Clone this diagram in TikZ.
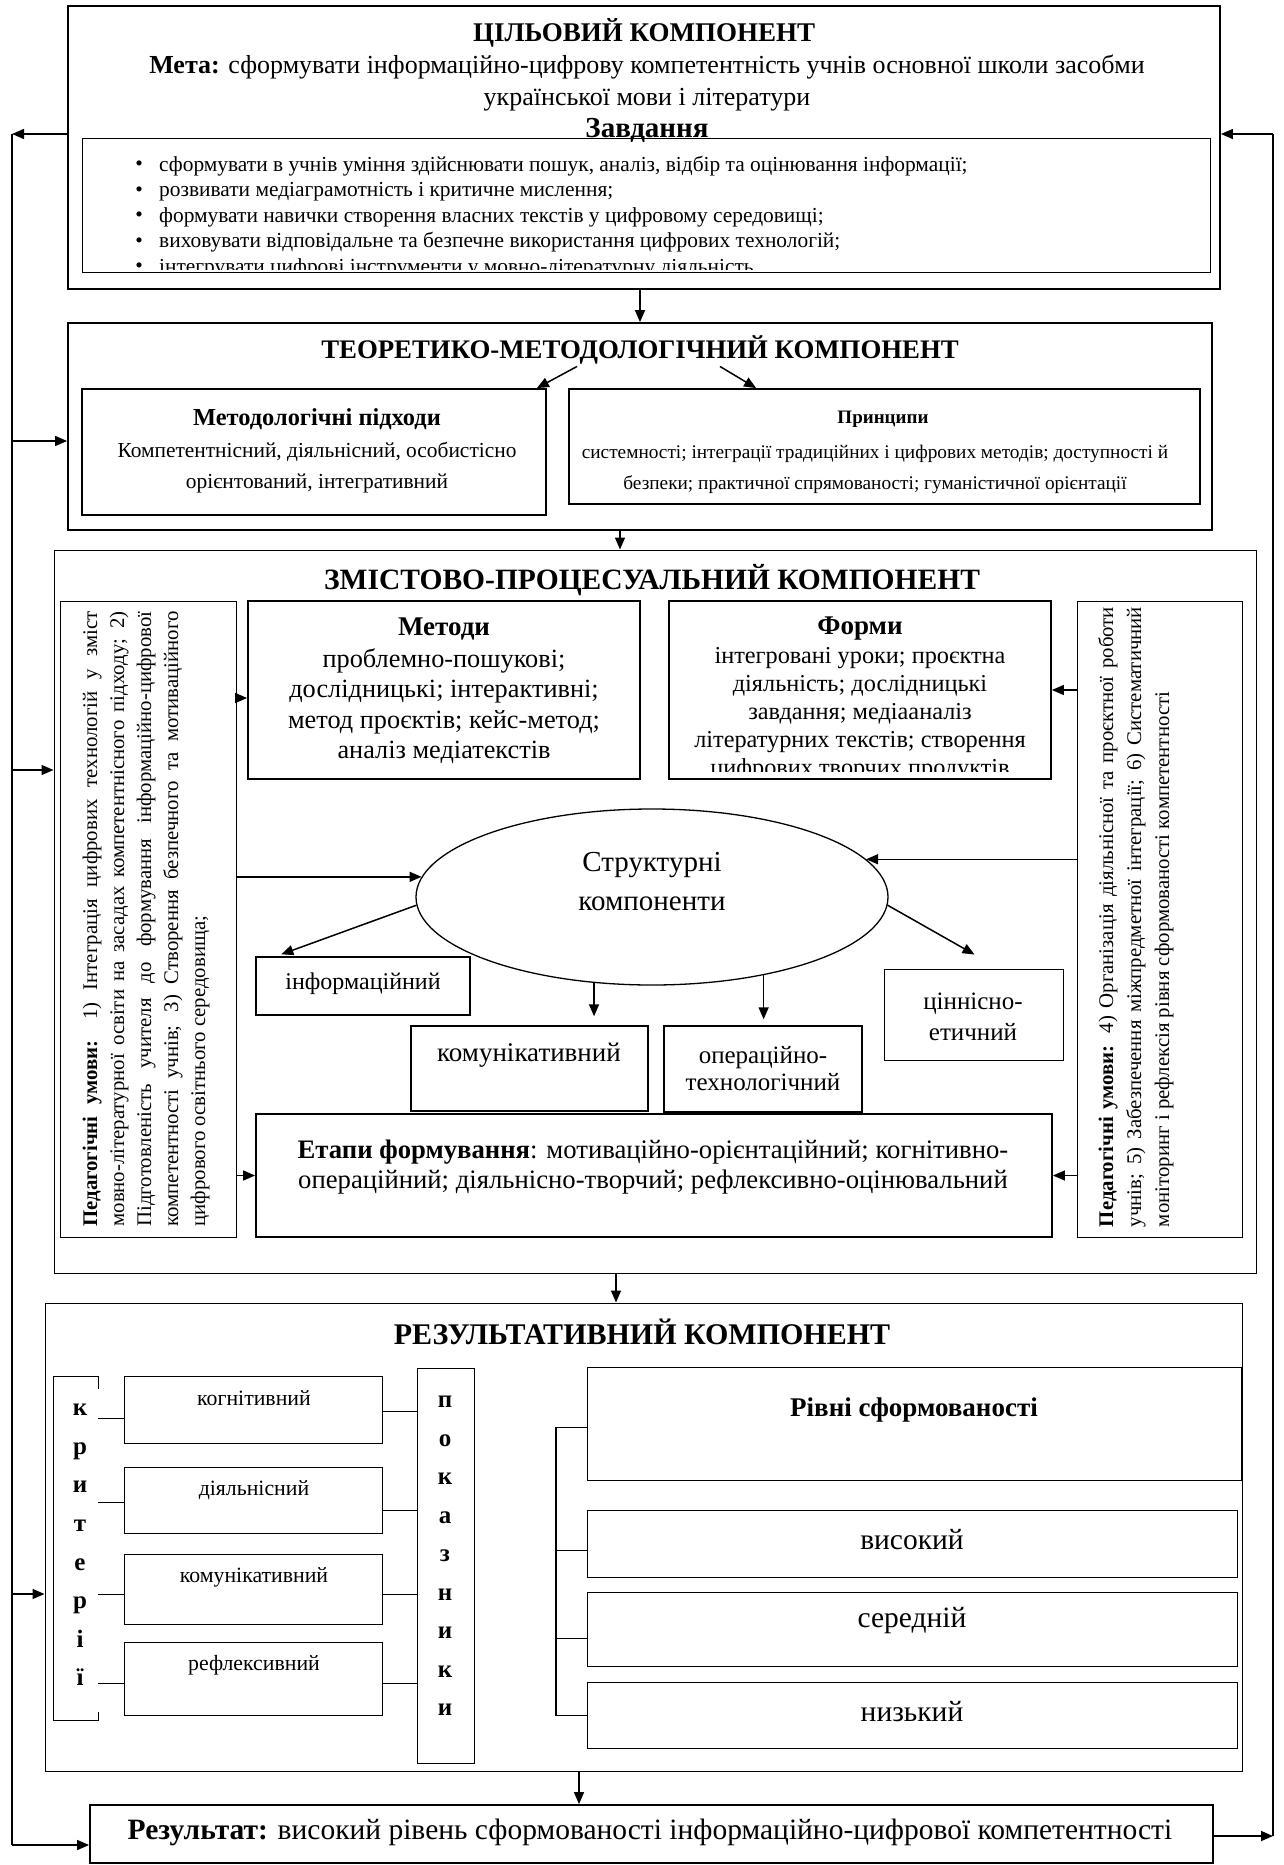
\documentclass[tikz,border=0pt]{standalone}
\usepackage{fontspec}
\setmainfont{Liberation Serif}
\usetikzlibrary{arrows.meta,shapes.geometric,fit,calc}
\newcommand{\fsz}[2]{\fontsize{#1}{#2}\selectfont}
\tikzset{
  bx/.style={draw, line width=1pt, inner sep=0pt},
  bxm/.style={draw, line width=1.4pt, inner sep=0pt},
  bxk/.style={draw, line width=1.8pt, inner sep=0pt},
  arr/.style={-{Triangle[length=12pt,width=10pt]}, line width=1.5pt},
  ln/.style={line width=1.5pt},
  lnt/.style={line width=1.2pt},
  txt/.style={inner sep=0pt},
}
\begin{document}
\begin{tikzpicture}[x=1pt,y=-1pt]
\useasboundingbox (0,0) rectangle (1283,1865);

% ---------------- goal component
\node[bxk, fit={(68,6) (1220,289)}] (goal) {};
\node[txt, font=\fsz{27}{32}\bfseries] (goalT) at (644,33) {ЦІЛЬОВИЙ КОМПОНЕНТ};
\node[txt, font=\fsz{26}{32}, align=center] (meta) at (647,83) {\textbf{Мета:} сформувати інформаційно-цифрову компетентність учнів основної школи засобми\\української мови і літератури};
\node[txt, font=\fsz{29}{32}\bfseries] (zavd) at (647,130) {Завдання};
\node[bx, fit={(82,139) (1210,272)}] (tasks) {};
\begin{scope}
\clip (82,139) rectangle (1210,269);
\node[txt, font=\fsz{21.4}{25}] (b1) at (139,166) {•};
\node[txt, font=\fsz{21.4}{25}] (b2) at (139,191.5) {•};
\node[txt, font=\fsz{21.4}{25}] (b3) at (139,217) {•};
\node[txt, font=\fsz{21.4}{25}] (b4) at (139,242.5) {•};
\node[txt, font=\fsz{21.4}{25}] (b5) at (139,268) {•};
\node[txt, anchor=west, font=\fsz{21.4}{25}] (t1) at (159,166) {сформувати в учнів уміння здійснювати пошук, аналіз, відбір та оцінювання інформації;};
\node[txt, anchor=west, font=\fsz{21.4}{25}] (t2) at (159,191.5) {розвивати медіаграмотність і критичне мислення;};
\node[txt, anchor=west, font=\fsz{21.4}{25}] (t3) at (159,217) {формувати навички створення власних текстів у цифровому середовищі;};
\node[txt, anchor=west, font=\fsz{21.4}{25}] (t4) at (159,242.5) {виховувати відповідальне та безпечне використання цифрових технологій;};
\node[txt, anchor=west, font=\fsz{21.4}{25}] (t5) at (159,268) {інтегрувати цифрові інструменти у мовно-літературну діяльність};
\end{scope}

% ---------------- theoretical component
\node[bxk, fit={(68,323) (1212,530)}] (theo) {};
\node[txt, font=\fsz{26.8}{30}\bfseries] (theoT) at (640,350) {ТЕОРЕТИКО-МЕТОДОЛОГІЧНИЙ КОМПОНЕНТ};
\node[bxk, fit={(82,389) (546,515)}] (appr) {};
\node[bxk, fit={(569,389) (1200,504)}] (princ) {};
\node[txt, font=\fsz{24.4}{28}\bfseries] (apprH) at (317,419) {Методологічні підходи};
\node[txt, font=\fsz{21.4}{31}, align=center] (apprT) at (317,468) {Компетентнісний, діяльнісний, особистісно\\орієнтований, інтегративний};
\node[txt, font=\fsz{19}{22}\bfseries] (princH) at (883,419) {Принципи};
\node[txt, font=\fsz{19.3}{31}, align=center] (princT) at (875,469) {системності; інтеграції традиційних і цифрових методів; доступності й\\безпеки; практичної спрямованості; гуманістичної орієнтації};
\draw[arr] ([xshift=-63pt,yshift=-2pt]theoT.south) -- ([xshift=-10pt]appr.north east);
\draw[arr] ([xshift=80pt,yshift=-2pt]theoT.south) -- ([xshift=188pt]princ.north west);

\draw[arr] (goal.south -| theo.north) -- (theo.north);

% ---------------- content-procedural component
\node[bx, fit={(54,550) (1256,1273)}] (zmist) {};
\draw[arr] ([xshift=-20pt]theo.south) -- ([xshift=-20pt]theo.south |- zmist.north);
\node[txt, font=\fsz{29.5}{32}\bfseries] (zmistT) at (652,580) {ЗМІСТОВО-ПРОЦЕСУАЛЬНИЙ КОМПОНЕНТ};

\node[bx, fit={(60,601) (236,1237)}] (lped) {};
\node[bx, fit={(1077,601) (1242,1237)}] (rped) {};
\node[txt, rotate=90, font=\fsz{20.8}{27}, align=left] (lpedT) at (146,919) {%
\makebox[615pt][s]{\textbf{Педагогічні умови:} 1) Інтеграція цифрових технологій у зміст}\\
\makebox[615pt][s]{мовно-літературної освіти на засадах компетентнісного підходу; 2)}\\
\makebox[615pt][s]{Підготовленість учителя до формування інформаційно-цифрової}\\
\makebox[615pt][s]{компетентності учнів; 3) Створення безпечного та мотиваційного}\\
\makebox[615pt][l]{цифрового освітнього середовища;}};
\node[txt, rotate=90, font=\fsz{20.8}{28}, align=left] (rpedT) at (1136,917) {%
\makebox[620pt][s]{\textbf{Педагогічні умови:} 4) Організація діяльнісної та проєктної роботи}\\
\makebox[620pt][s]{учнів; 5) Забезпечення міжпредметної інтеграції; 6) Систематичний}\\
\makebox[620pt][l]{моніторинг і рефлексія рівня сформованості компетентності}};

\node[bxk, fit={(248,601) (640,779)}] (meth) {};
\node[bxk, fit={(669,601) (1051,779)}] (form) {};
\node[txt, font=\fsz{27}{30}\bfseries] (methH) at (444,629) {Методи};
\node[txt, font=\fsz{26.3}{30.3}, align=center] (methT) at (444,706) {проблемно-пошукові;\\дослідницькі; інтерактивні;\\метод проєктів; кейс-метод;\\аналіз медіатекстів};
\node[txt, font=\fsz{27}{30}\bfseries] (formH) at (860,629) {Форми};
\begin{scope}
\clip (669,640) rectangle (1051,771);
\node[txt, font=\fsz{24.3}{27.8}, align=center] (formT) at (860,714) {інтегровані уроки; проєктна\\діяльність; дослідницькі\\завдання; медіааналіз\\літературних текстів; створення\\цифрових творчих продуктів};
\end{scope}

\node[draw, ellipse, line width=1.3pt, minimum width=472pt, minimum height=176pt, inner sep=0pt] (ell) at (652,897) {};
\node[txt, font=\fsz{29}{39}, align=center] (ellT) at (652,882) {Структурні\\компоненти};

\node[bxm, fit={(256,957) (470,1015)}] (info) {};
\node[bxm, fit={(411,1026) (648,1111)}] (komm) {};
\node[bxm, fit={(664,1026) (862,1112)}] (oper) {};
\node[bx, fit={(884,969) (1063,1060)}] (cin) {};
\node[bxk, fit={(256,1114) (1052,1237)}] (etap) {};
\node[txt, font=\fsz{24}{28}] (infoT) at (363,984) {інформаційний};
\node[txt, font=\fsz{27}{30}] (kommT) at (529,1055) {комунікативний};
\node[txt, font=\fsz{25}{27}, align=center] (operT) at (763,1069) {операційно-\\технологічний};
\node[txt, font=\fsz{25}{31}, align=center] (cinT) at (973,1017) {ціннісно-\\етичний};
\node[txt, font=\fsz{26.7}{30}, align=center] (etapT) at (653,1167) {\textbf{Етапи формування}: мотиваційно-орієнтаційний; когнітивно-\\операційний; діяльнісно-творчий; рефлексивно-оцінювальний};

\coordinate (mA) at ([yshift=-8pt]meth.west);
\draw[arr] (lped.east |- mA) -- (mA);
\draw[arr] (rped.west |- form.east) -- (form.east);
\draw[arr] (lped.east |- ell.175) -- (ell.175);
\draw[arr] (rped.west |- ell.10) -- (ell.10);
\draw[arr] (lped.east |- etap.west) -- (etap.west);
\draw[arr] (rped.west |- etap.east) -- (etap.east);
\draw[arr] (ell.182) -- ([xshift=26pt,yshift=2pt]info.north west);
\draw[arr, shorten >=9pt] (ell.236) -- (ell.236 |- komm.north);
\draw[arr, shorten >=6pt] (ell.325) -- (ell.325 |- oper.north);
\draw[arr] (ell.358) -- ([xshift=91pt,yshift=14pt]cin.north west);

% ---------------- result component
\node[bx, fit={(45,1303) (1242,1771)}] (res) {};
\draw[arr] ([xshift=-39pt]zmist.south) -- ([xshift=-39pt]zmist.south |- res.north);
\node[txt, font=\fsz{30}{32}\bfseries] (resT) at (642,1332) {РЕЗУЛЬТАТИВНИЙ КОМПОНЕНТ};

\node[inner sep=0pt, fit={(54,1377) (98,1720)}] (crit) {};
\draw[lnt] ([yshift=-12pt]crit.north east) -- (crit.north east) -- (crit.north west) -- (crit.south west) -- (crit.south east) -- ([yshift=8pt]crit.south east);
\node[txt, font=\fsz{25}{38.6}\bfseries, align=center] (critT) at (80,1545) {к\\р\\и\\т\\е\\р\\і\\ї};

\node[bx, fit={(124,1376) (382,1443)}] (cog) {};
\node[bx, fit={(124,1467) (382,1533)}] (act) {};
\node[bx, fit={(124,1554) (382,1624)}] (com) {};
\node[bx, fit={(124,1642) (382,1715)}] (refl) {};
\node[txt, font=\fsz{21.8}{24}] (cogT) at (254,1398) {когнітивний};
\node[txt, font=\fsz{21.8}{24}] (actT) at (254,1490) {діяльнісний};
\node[txt, font=\fsz{21.8}{24}] (comT) at (254,1577) {комунікативний};
\node[txt, font=\fsz{21.8}{24}] (reflT) at (254,1665) {рефлексивний};

\node[bx, fit={(417,1368) (474,1763)}] (pok) {};
\node[txt, font=\fsz{25}{38.5}\bfseries, align=center] (pokT) at (445,1556) {п\\о\\к\\а\\з\\н\\и\\к\\и};

\coordinate (cl1) at ([yshift=25pt]cog.south west);
\coordinate (cl2) at ([yshift=31pt]act.south west);
\coordinate (cl3) at ([yshift=30pt]com.south west);
\coordinate (cl4) at ([yshift=32pt]refl.south west);
\coordinate (cr1) at ([yshift=32pt]cog.south east);
\coordinate (cr2) at ([yshift=23pt]act.south east);
\coordinate (cr3) at ([yshift=30pt]com.south east);
\coordinate (cr4) at ([yshift=32pt]refl.south east);
\draw[lnt] (crit.east |- cl1) -- (cl1);
\draw[lnt] (crit.east |- cl2) -- (cl2);
\draw[lnt] (crit.east |- cl3) -- (cl3);
\draw[lnt] (crit.east |- cl4) -- (cl4);
\draw[lnt] (cr1) -- (pok.west |- cr1);
\draw[lnt] (cr2) -- (pok.west |- cr2);
\draw[lnt] (cr3) -- (pok.west |- cr3);
\draw[lnt] (cr4) -- (pok.west |- cr4);

\node[bx, fit={(587,1367) (1241,1480)}] (lvl) {};
\node[bx, fit={(587,1510) (1237,1577)}] (high) {};
\node[bx, fit={(587,1592) (1237,1666)}] (mid) {};
\node[bx, fit={(587,1682) (1237,1748)}] (low) {};
\node[txt, font=\fsz{27}{30}\bfseries] (lvlT) at (914,1410) {Рівні сформованості};
\node[txt, font=\fsz{29.5}{32}] (highT) at (912,1540) {високий};
\node[txt, font=\fsz{29.5}{32}] (midT) at (912,1621) {середній};
\node[txt, font=\fsz{29.5}{32}] (lowT) at (912,1712) {низький};
\coordinate (lv1) at ([yshift=-61pt]lvl.north west);
\coordinate (lv2) at ([yshift=-41pt]high.north west);
\coordinate (lv3) at ([yshift=-47pt]mid.north west);
\coordinate (lv4) at ([yshift=-34pt]low.north west);
\coordinate (trk) at (556,0);
\draw[lnt] (lv1) -- (trk |- lv1) -- (trk |- lv4) -- (lv4);
\draw[lnt] (trk |- lv2) -- (lv2);
\draw[lnt] (trk |- lv3) -- (lv3);

% ---------------- final result
\node[bxk, fit={(90,1805) (1213,1863)}] (final) {};
\node[txt, font=\fsz{29.5}{32}] (finalT) at (650,1832) {\textbf{Результат:} високий рівень сформованості інформаційно-цифрової компетентності};
\draw[arr] ([xshift=-64.5pt]res.south) -- ([xshift=-64.5pt]res.south |- final.north);

% ---------------- feedback lines
\coordinate (Lt) at (12,134);
\coordinate (Lb) at (12,1845);
\coordinate (L1) at (12,441);
\coordinate (L2) at (12,770);
\coordinate (L3) at (12,1594);
\coordinate (Rt) at (1273,134);
\coordinate (Rb) at (1273,1836);
\draw[arr] (goal.west |- Lt) -- (Lt);
\draw[ln] (Lt) -- (Lb);
\draw[arr] (Lb) -- (final.west |- Lb);
\draw[arr] (L1) -- (theo.west |- L1);
\draw[arr] (L2) -- (zmist.west |- L2);
\draw[arr] (L3) -- (res.west |- L3);
\draw[arr] (final.east |- Rb) -- (Rb);
\draw[ln] (Rb) -- (Rt);
\draw[arr] (Rt) -- (goal.east |- Rt);
\end{tikzpicture}
\end{document}
